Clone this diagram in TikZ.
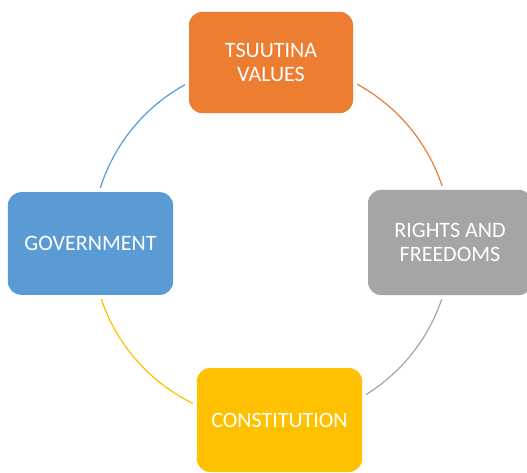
\documentclass[tikz,border=0pt]{standalone}
\usepackage{fontspec}
\setmainfont{Carlito}
\definecolor{cOrange}{HTML}{ED7D31}
\definecolor{cGray}{HTML}{A5A5A5}
\definecolor{cBlue}{HTML}{5B9BD5}
\definecolor{cYellow}{HTML}{FFC000}
\begin{document}
\begin{tikzpicture}[x=0.75pt,y=0.75pt,
  box/.style={rounded corners=10pt, align=center, text=white,
    font=\fontsize{16.5}{18}\selectfont, inner sep=0pt,
    preaction={draw=white, line width=6pt}},
  ring/.style={line width=0.9pt}]
\useasboundingbox (0,0) rectangle (527,472);
\clip (0,0) rectangle (527,472);
\fill[white] (0,0) rectangle (527,472);
\coordinate (c) at (271.5,230);
\path (c) ++(90:134.6pt) coordinate (p90);
\path (c) ++(0:134.6pt) coordinate (p0);
\path (c) ++(270:134.6pt) coordinate (p270);
\path (c) ++(180:134.6pt) coordinate (p180);
\draw[ring, cBlue] (p180) arc[start angle=180, end angle=90, radius=134.6pt];
\draw[ring, cOrange] (p90) arc[start angle=90, end angle=0, radius=134.6pt];
\draw[ring, cGray] (p0) arc[start angle=0, end angle=-90, radius=134.6pt];
\draw[ring, cYellow] (p270) arc[start angle=270, end angle=180, radius=134.6pt];
\node[box, fill=cOrange, minimum width=123pt, minimum height=76pt] (tv) at (271,409.5) {TSUUTINA\\VALUES};
\node[box, fill=cGray, minimum width=123pt, minimum height=79pt] (rf) at (450,229.5) {RIGHTS AND\\FREEDOMS};
\node[box, fill=cBlue, minimum width=124pt, minimum height=77pt] (gov) at (90.5,228.5) {GOVERNMENT};
\node[box, fill=cYellow, minimum width=124pt, minimum height=78pt] (con) at (279.5,52) {CONSTITUTION};
\end{tikzpicture}
\end{document}
